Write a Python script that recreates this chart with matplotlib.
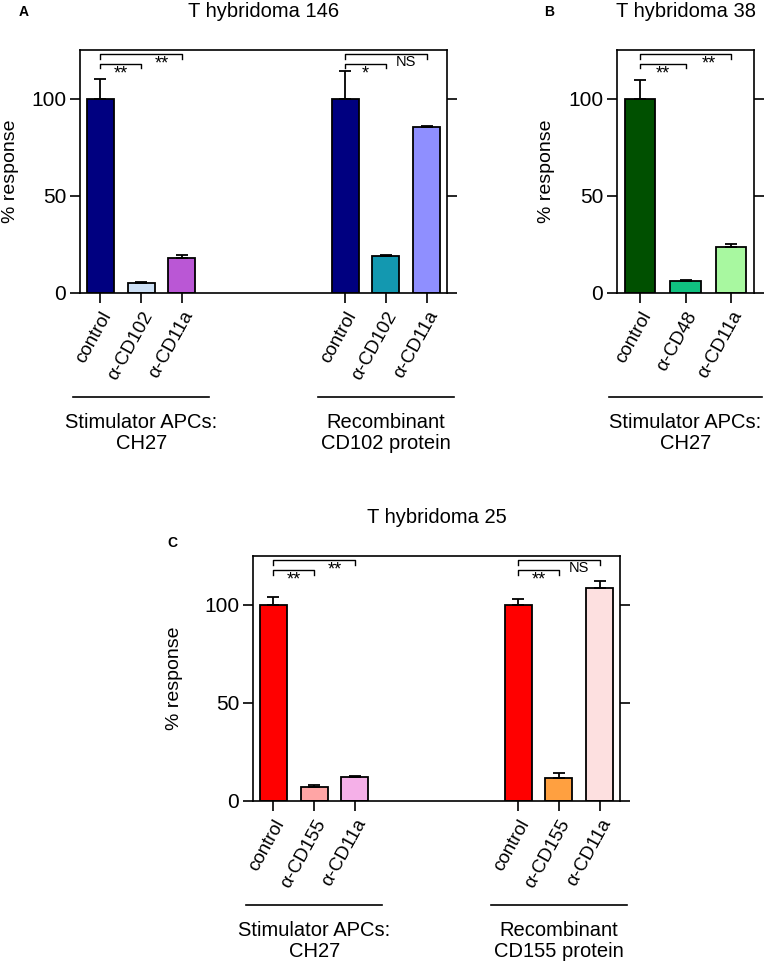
import matplotlib
matplotlib.use("Agg")
import matplotlib.pyplot as plt
import matplotlib.transforms as mtransforms

plt.rcParams['font.family'] = ['Liberation Sans', 'DejaVu Sans']

# panel A: T hybridoma 146
a_labels = ['control', 'α-CD102', 'α-CD11a', 'control', 'α-CD102', 'α-CD11a']
a_values = [100, 5, 18, 100, 19, 85.5]
a_errors = [10, 0.7, 1.3, 14, 0.5, 0.3]
a_colors = ['#000080', '#CDE0F5', '#BA57D5', '#000080', '#1398B0', '#8F8FFF']
a_groups = ['Stimulator APCs:\nCH27', 'Recombinant\nCD102 protein']
a_brackets = [(0, 1, '**'), (0, 2, '**'), (3, 4, '*'), (3, 5, 'NS')]

# panel B: T hybridoma 38
b_labels = ['control', 'α-CD48', 'α-CD11a']
b_values = [100, 6, 23.5]
b_errors = [9.5, 0.5, 1.8]
b_colors = ['#005000', '#10C080', '#A8F8A0']
b_groups = ['Stimulator APCs:\nCH27']
b_brackets = [(0, 1, '**'), (0, 2, '**')]

# panel C: T hybridoma 25
c_labels = ['control', 'α-CD155', 'α-CD11a', 'control', 'α-CD155', 'α-CD11a']
c_values = [100, 7, 12, 100, 11.5, 108.5]
c_errors = [4.3, 1.0, 0.8, 3.3, 3.0, 3.7]
c_colors = ['#FF0000', '#FFA5A5', '#F5B0E8', '#FF0000', '#FFA040', '#FDE0E0']
c_groups = ['Stimulator APCs:\nCH27', 'Recombinant\nCD155 protein']
c_brackets = [(0, 1, '**'), (0, 2, '**'), (3, 4, '**'), (3, 5, 'NS')]

W, H = 768, 964
fig = plt.figure(figsize=(W / 100, H / 100), dpi=100)


def px_axes(x0, y0, x1, y1):
    # axes box from pixel corners (top-left origin)
    return fig.add_axes([x0 / W, 1 - y1 / H, (x1 - x0) / W, (y1 - y0) / H])


def draw_panel(ax, title, letter, letter_xy, labels, values, errors, colors,
               groups, brackets, ylab_px):
    n = len(values)
    pos = [i + (3 if i >= 3 else 0) for i in range(n)]
    ax.bar(pos, values, width=0.66, color=colors, edgecolor='black', linewidth=1.3,
           yerr=[[0] * n, errors], capsize=4.5,
           error_kw=dict(elinewidth=1.3, capthick=1.3, ecolor='black'), zorder=2)
    ax.set_xlim(-0.5, max(pos) + 0.5)
    ax.set_ylim(0, 125)
    ax.set_yticks([0, 50, 100])
    ax.set_xticks(pos)
    ax.set_xticklabels(labels, rotation=61, ha='right', rotation_mode='anchor')
    ax.tick_params(axis='both', direction='out', length=7, width=1.2)
    ax.tick_params(axis='y', right=True, pad=3, labelsize=15)
    ax.tick_params(axis='x', pad=4, labelsize=13.5)
    for s in ax.spines.values():
        s.set_linewidth(1.2)
    ax.set_ylabel('% response', fontsize=14)
    bb = ax.get_position()
    ax.yaxis.set_label_coords(-ylab_px / (bb.width * W), 0.5)
    ax.set_title(title, fontsize=14.5, pad=24)
    fig.text(letter_xy[0] / W, 1 - letter_xy[1] / H, letter, fontsize=10,
             fontweight='bold', ha='center', va='center')

    # significance brackets
    for i, j, txt in brackets:
        high = (j - i) > 1
        y = 123 if high else 118
        ax.plot([pos[i], pos[i], pos[j], pos[j]], [y - 2.5, y, y, y - 2.5],
                color='black', lw=1.0, clip_on=False)
        if high:
            tx = (pos[j - 1] + pos[j]) / 2
        else:
            tx = (pos[i] + pos[j]) / 2
        fs = 10.5 if txt == 'NS' else 13
        ax.text(tx, y - 0.8, txt, ha='center', va='top', fontsize=fs)

    # group lines and labels below axis
    base = mtransforms.blended_transform_factory(ax.transData, ax.transAxes)
    line_tr = base + mtransforms.ScaledTranslation(0, -1.04, fig.dpi_scale_trans)
    text_tr = base + mtransforms.ScaledTranslation(0, -1.20, fig.dpi_scale_trans)
    for g, name in enumerate(groups):
        gpos = pos[3 * g:3 * g + 3]
        c = sum(gpos) / 3
        ax.plot([c - 1.67, c + 1.67], [0, 0], color='black', lw=1.2,
                transform=line_tr, clip_on=False)
        ax.text(c, 0, name, ha='center', va='top', fontsize=14.5, linespacing=1.15,
                transform=text_tr)


ax_a = px_axes(80, 50, 447, 293)
draw_panel(ax_a, 'T hybridoma 146', 'A', (24, 12), a_labels, a_values, a_errors,
           a_colors, a_groups, a_brackets, 61)

ax_b = px_axes(617, 50, 754, 293)
draw_panel(ax_b, 'T hybridoma 38', 'B', (549, 12), b_labels, b_values, b_errors,
           b_colors, b_groups, b_brackets, 62)

ax_c = px_axes(253, 556, 620, 801)
draw_panel(ax_c, 'T hybridoma 25', 'C', (172, 543), c_labels, c_values, c_errors,
           c_colors, c_groups, c_brackets, 70)

fig.savefig('out.png', dpi=100)
